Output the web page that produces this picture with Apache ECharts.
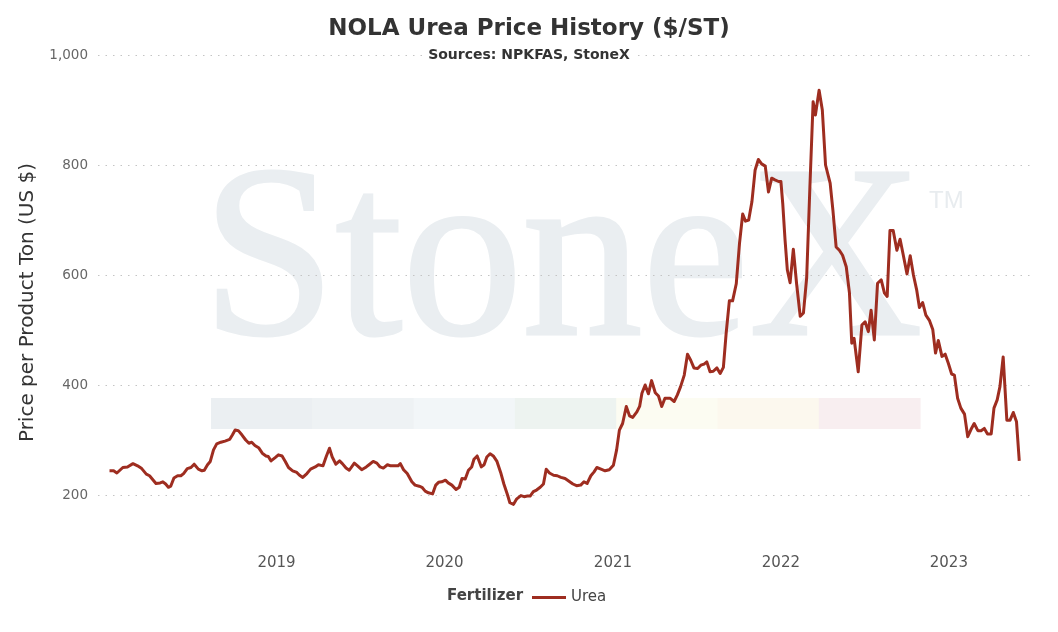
<!DOCTYPE html>
<html>
<head>
<meta charset="utf-8">
<script src="https://cdn.jsdelivr.net/npm/echarts@6/dist/echarts.min.js"></script>
<style>
html,body{margin:0;padding:0;background:#fff;}
#chart{width:1058px;height:632px;}
</style>
</head>
<body>
<div id="chart"></div>
<script>
const dates = [
'2018-01-03','2018-01-12','2018-01-19','2018-02-01','2018-02-11','2018-02-23','2018-03-05','2018-03-14','2018-03-24','2018-03-31',
'2018-04-14','2018-04-23','2018-04-29','2018-05-05','2018-05-11','2018-05-16','2018-05-23','2018-05-31','2018-06-07','2018-06-13',
'2018-06-21','2018-06-29','2018-07-06','2018-07-15','2018-07-23','2018-07-28','2018-08-04','2018-08-10','2018-08-17','2018-08-24',
'2018-09-02','2018-09-11','2018-09-21','2018-09-27','2018-10-03','2018-10-10','2018-10-18','2018-10-26','2018-11-02','2018-11-08',
'2018-11-15','2018-11-23','2018-12-01','2018-12-09','2018-12-14','2018-12-20','2018-12-29',
'2019-01-05','2019-01-13','2019-01-20','2019-01-27','2019-02-05','2019-02-14','2019-02-20','2019-02-27','2019-03-08','2019-03-16',
'2019-03-26','2019-04-02','2019-04-12','2019-04-19','2019-04-26','2019-05-02','2019-05-10','2019-05-18','2019-05-24','2019-06-01',
'2019-06-08','2019-06-19','2019-06-26','2019-07-05','2019-07-15','2019-07-21','2019-07-30','2019-08-07','2019-08-14','2019-08-21',
'2019-08-30','2019-09-06','2019-09-16','2019-09-22','2019-09-27','2019-10-04','2019-10-12','2019-10-22','2019-10-29','2019-11-07',
'2019-11-13','2019-11-20','2019-11-27','2019-12-06','2019-12-13','2019-12-19','2019-12-26',
'2020-01-03','2020-01-09','2020-01-17','2020-01-26','2020-02-02','2020-02-08','2020-02-15','2020-02-22','2020-02-29','2020-03-05',
'2020-03-12','2020-03-21','2020-03-27','2020-04-02','2020-04-09','2020-04-16','2020-04-24','2020-05-02','2020-05-09','2020-05-17',
'2020-05-22','2020-05-30','2020-06-06','2020-06-15','2020-06-22','2020-06-29','2020-07-05','2020-07-12','2020-07-19','2020-07-27',
'2020-08-03','2020-08-09','2020-08-16','2020-08-25','2020-09-02','2020-09-10','2020-09-19','2020-09-26','2020-10-06','2020-10-14',
'2020-10-23','2020-10-30','2020-11-06','2020-11-14','2020-11-21','2020-11-27','2020-12-06','2020-12-15','2020-12-24',
'2021-01-02','2021-01-09','2021-01-15','2021-01-22','2021-01-30','2021-02-06','2021-02-13','2021-02-22','2021-02-28','2021-03-05',
'2021-03-12','2021-03-19','2021-03-26','2021-04-03','2021-04-10','2021-04-17','2021-04-24','2021-05-05','2021-05-14','2021-05-21',
'2021-05-28','2021-06-05','2021-06-12','2021-06-19','2021-06-26','2021-07-04','2021-07-11','2021-07-18','2021-07-24','2021-07-31',
'2021-08-07','2021-08-15','2021-08-22','2021-08-29','2021-09-04','2021-09-11','2021-09-18','2021-09-26','2021-10-03','2021-10-10',
'2021-10-16','2021-10-23','2021-10-30','2021-11-06','2021-11-13','2021-11-20','2021-11-28','2021-12-05','2021-12-12','2021-12-19',
'2021-12-27',
'2022-01-01','2022-01-05','2022-01-10','2022-01-15','2022-01-21','2022-01-28','2022-02-04','2022-02-12','2022-02-19','2022-02-26',
'2022-03-05','2022-03-12','2022-03-17','2022-03-25','2022-04-01','2022-04-08','2022-04-18','2022-04-24','2022-05-01','2022-05-08',
'2022-05-15','2022-05-23','2022-05-30','2022-06-04','2022-06-09','2022-06-18','2022-06-26','2022-07-03','2022-07-10','2022-07-16',
'2022-07-23','2022-07-30','2022-08-07','2022-08-14','2022-08-20','2022-08-26','2022-09-02','2022-09-10','2022-09-17','2022-09-24',
'2022-10-02','2022-10-09','2022-10-16','2022-10-23','2022-10-29','2022-11-05','2022-11-12','2022-11-20','2022-11-27','2022-12-03',
'2022-12-09','2022-12-17','2022-12-24','2022-12-31',
'2023-01-07','2023-01-13','2023-01-20','2023-01-27','2023-02-04','2023-02-11','2023-02-18','2023-02-25','2023-03-05','2023-03-12',
'2023-03-19','2023-03-26','2023-04-03','2023-04-09','2023-04-16','2023-04-22','2023-04-29','2023-05-07','2023-05-14','2023-05-21',
'2023-05-28','2023-06-03'
];
const ureaPrices = [
244,244,240,250,251,257,253,248,238,235,
221,222,224,220,214,216,231,235,235,239,
248,250,256,247,244,245,255,261,282,293,
296,298,301,309,318,317,309,300,294,296,
290,286,276,271,270,262,268,
273,271,261,250,244,241,236,232,239,247,
251,255,253,270,285,269,256,262,257,249,
245,258,253,246,251,255,261,258,251,249,
255,253,253,253,257,246,239,224,218,216,
214,207,204,202,218,223,224,
227,222,218,210,214,230,229,245,251,265,
271,251,255,269,275,271,261,241,220,200,
186,183,193,199,197,198,198,206,209,214,
220,247,240,236,235,232,230,226,220,217,
218,224,221,235,242,250,247,244,246,
254,282,318,330,361,344,341,351,361,385,
400,384,408,386,380,361,376,376,370,382,
397,418,456,445,431,430,436,438,442,424,
425,431,421,432,494,553,553,584,657,711,
698,700,733,791,810,802,798,751,776,773,
770,
770,730,664,609,586,647,585,525,531,595,
760,915,891,936,900,800,767,718,651,645,
636,615,567,476,485,424,509,515,497,536,
482,585,591,567,561,681,681,645,665,636,
602,635,600,573,541,550,527,517,501,458,
481,452,456,439,
420,418,376,358,347,306,319,330,317,317,
321,311,311,358,373,397,451,336,336,350,
333,262
];
const xTickLabels = ['2019','2020','2021','2022','2023'];
const yTickValues = [200, 400, 600, 800, 1000];
const seriesName = 'Urea';
const legendTitle = 'Fertilizer';
const watermarkBands = ['#ebeff2','#eef2f4','#f2f6f8','#edf3f0','#fcfcf2','#fcf8ee','#f8eef0'];

const chart = echarts.init(document.getElementById('chart'), null, {renderer: 'canvas'});
const FONT = '"DejaVu Sans", Verdana, sans-serif';

const bandEls = watermarkBands.map((c, i) => ({
  type: 'rect', z: -10, silent: true,
  shape: {x: 211 + i * 101.3, y: 398, width: 101.8, height: 31},
  style: {fill: c}
}));

const YEAR_MS = 365.25 * 24 * 3600 * 1000;

chart.setOption({
  animation: false,
  textStyle: {fontFamily: FONT},
  title: [
    {text: 'NOLA Urea Price History ($/ST)', left: 'center', top: 13,
     textStyle: {fontSize: 23, fontWeight: 'bold', color: '#333', fontFamily: FONT}},
    {text: 'Sources: NPKFAS, StoneX', left: 'center', top: 47, padding: [1, 3],
     backgroundColor: '#fff',
     textStyle: {fontSize: 14, fontWeight: 'bold', color: '#333', fontFamily: FONT}}
  ],
  grid: {left: 98, right: 24, top: 55, bottom: 82, containLabel: false},
  legend: {
    data: [seriesName], left: 527, top: 585, icon: 'rect', itemWidth: 34, itemHeight: 3,
    itemGap: 10, textStyle: {fontSize: 15, color: '#444', fontFamily: FONT}
  },
  graphic: {elements: [
    ...bandEls,
    {type: 'text', z: -10, silent: true, x: 202, y: 270, scaleX: 0.98,
     style: {text: 'StoneX', x: 0, y: 0, font: '245px "Liberation Serif", serif', fill: '#eaeef1',
             stroke: '#eaeef1', lineWidth: 3,
             textAlign: 'left', verticalAlign: 'middle'}},
    {type: 'text', z: -10, silent: true, x: 929, y: 201,
     style: {text: 'TM', font: '24px "Liberation Sans", Arial, sans-serif', fill: '#e8ecef',
             textAlign: 'left', verticalAlign: 'middle'}},
    {type: 'text', x: 447, y: 596,
     style: {text: legendTitle, font: 'bold 15px ' + FONT, fill: '#444', textAlign: 'left', verticalAlign: 'middle'}}
  ]},
  xAxis: {
    type: 'time', min: '2017-12-09', max: '2023-07-05',
    minInterval: YEAR_MS, maxInterval: YEAR_MS, splitNumber: 6,
    axisLine: {show: false}, axisTick: {show: false},
    splitLine: {show: false},
    axisLabel: {
      formatter: function (v) {
        const d = new Date(v);
        const y = String(d.getFullYear());
        return (d.getMonth() === 0 && d.getDate() === 1 && xTickLabels.indexOf(y) >= 0) ? y : '';
      },
      hideOverlap: false,
      fontSize: 15, color: '#555', margin: 6, fontFamily: FONT
    }
  },
  yAxis: {
    type: 'value', min: 100, max: 1000,
    name: 'Price per Product Ton (US $)', nameLocation: 'middle', nameGap: 60,
    nameTextStyle: {fontSize: 20, color: '#333', fontFamily: FONT},
    axisLine: {show: false},
    axisTick: {show: false, customValues: yTickValues},
    axisLabel: {customValues: yTickValues, formatter: v => v.toLocaleString('en-US'),
                fontSize: 13.5, color: '#666', margin: 10, fontFamily: FONT},
    splitLine: {show: true, lineStyle: {color: '#c4c4c4', width: 1, type: [1.5, 6]}}
  },
  series: [{
    name: seriesName, type: 'line', showSymbol: false, symbol: 'none',
    data: dates.map((d, i) => [d, ureaPrices[i]]),
    lineStyle: {color: '#9e2d20', width: 3, join: 'round'},
    itemStyle: {color: '#9e2d20'},
    z: 5
  }]
});
</script>
</body>
</html>
